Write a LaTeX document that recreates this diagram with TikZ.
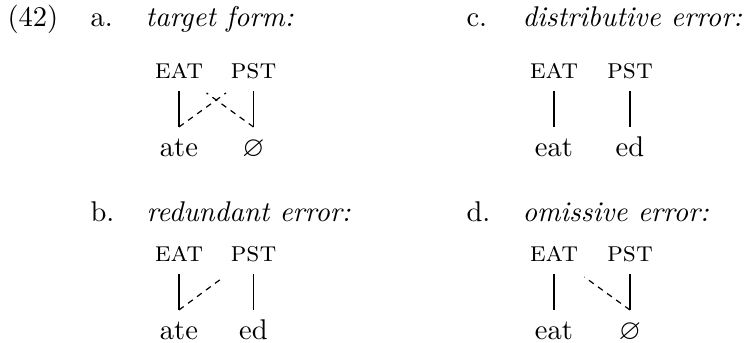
\documentclass[tikz,border=0pt]{standalone}
\usepackage{tikz}
\usetikzlibrary{positioning,calc}
\usepackage{amsmath,amssymb}

\newcommand{\exsize}{\fontsize{10.7pt}{13pt}\selectfont}

\begin{document}
\begin{tikzpicture}[x=0.375pt, y=-0.375pt, every node/.style={font=\exsize}]
  \tikzstyle{exmark} = [inner sep=0pt, anchor=base west]
  \tikzstyle{extitle} = [exmark, font=\exsize\itshape]
  \tikzstyle{gloss} = [font=\exsize\scshape, inner sep=0pt, outer sep=4.5pt, text depth=0pt, anchor=base]
  \tikzstyle{form} = [inner sep=0pt, outer sep=4.5pt, text height=6.75pt, text depth=0pt, anchor=base]
  \tikzstyle{link} = [draw, line width=0.45pt]
  \tikzstyle{dlink} = [link, dash pattern=on 2.2pt off 2pt]

  \useasboundingbox (0,0) rectangle (744,343);

  % example number and sub-items
  \node[exmark] (num) at (7,27) {(42)};
  \node[exmark] (ma) at (90,27) {a.};
  \node[extitle] (ta) at (145,27) {target form:};
  \node[exmark] (mc) at (466,27) {c.};
  \node[extitle] (tc) at (522,27) {distributive error:};
  \node[exmark] (mb) at (90,222) {b.};
  \node[extitle] (tb) at (146,222) {redundant error:};
  \node[exmark] (md) at (466,222) {d.};
  \node[extitle] (td) at (522,222) {omissive error:};

  % a. target form
  \node[gloss] (ea) at (179,79) {eat};
  \node[gloss] (pa) at (253.5,79) {pst};
  \node[form] (la) at (179,157) {ate};
  \node[form] (ra) at (253.5,157) {$\varnothing$};
  \coordinate (xa1) at ($(ea.south)!0.63!(pa.south)+(0,2)$);
  \coordinate (xa2) at ($(pa.south)!0.63!(ea.south)+(0,2)$);
  \path[link] (ea) -- (la);
  \path[link] (pa) -- (ra);
  \path[dlink] (la.north) -- (xa1);
  \path[dlink] (ra.north) -- (xa2);

  % c. distributive error
  \node[gloss] (ec) at (554,79) {eat};
  \node[gloss] (pc) at (630,79) {pst};
  \node[form] (lc) at (554,157) {eat};
  \node[form] (rc) at (630,157) {ed};
  \path[link] (ec) -- (lc);
  \path[link] (pc) -- (rc);

  % b. redundant error
  \node[gloss] (eb) at (179,262) {eat};
  \node[gloss] (pb) at (253.5,262) {pst};
  \node[form] (lb) at (179,340) {ate};
  \node[form] (rb) at (253.5,340) {ed};
  \coordinate (xb) at ($(eb.south)!0.6!(pb.south)+(0,3)$);
  \path[link] (eb) -- (lb);
  \path[link] (pb) -- (rb);
  \path[dlink] (lb.north) -- (xb);

  % d. omissive error
  \node[gloss] (ed) at (554,262) {eat};
  \node[gloss] (pd) at (630,262) {pst};
  \node[form] (ld) at (554,340) {eat};
  \node[form] (rd) at (630,340) {$\varnothing$};
  \coordinate (xd) at ($(pd.south)!0.6!(ed.south)+(0,3)$);
  \path[link] (ed) -- (ld);
  \path[link] (pd) -- (rd);
  \path[dlink] (rd.north) -- (xd);

\end{tikzpicture}
\end{document}
